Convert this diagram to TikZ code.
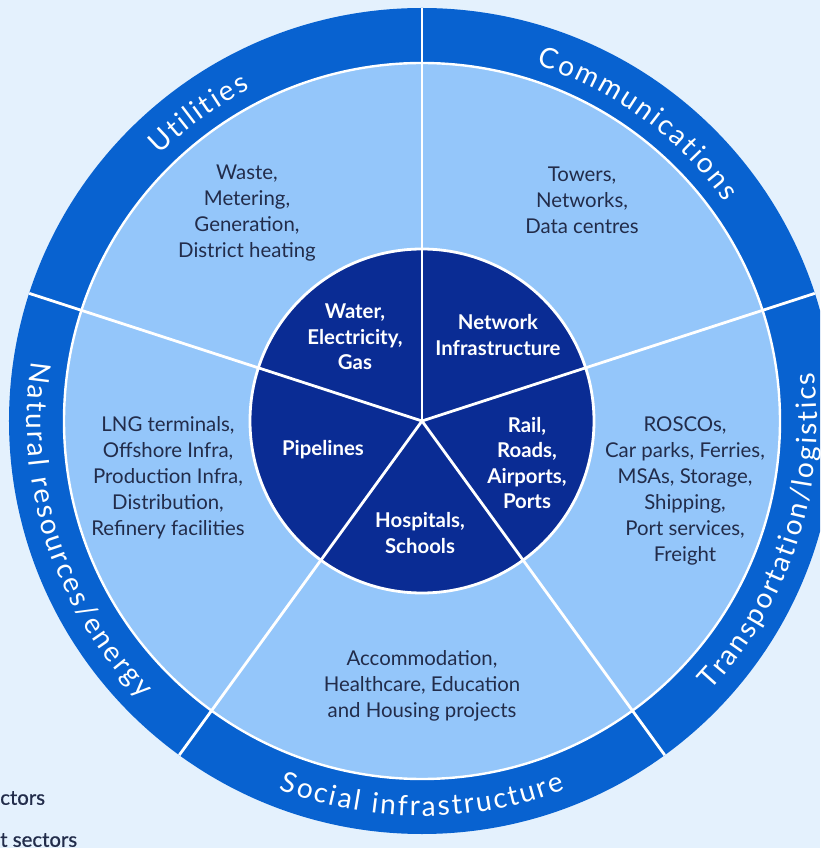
\documentclass[tikz,border=0pt]{standalone}
\usepackage{fontspec}
\setmainfont{Lato}
\newfontfamily\bandfont{Lato}
\newfontfamily\legendfont[FakeBold=0.8]{Lato}
\usetikzlibrary{decorations.text}

\definecolor{bgblue}{RGB}{228,241,253}
\definecolor{bandblue}{RGB}{8,98,208}
\definecolor{paleblue}{RGB}{148,198,250}
\definecolor{coreblue}{RGB}{10,44,148}
\definecolor{inktext}{RGB}{34,44,74}

\begin{document}
\begin{tikzpicture}[x=0.25mm, y=0.25mm,
    pale/.style={align=center, text=inktext, font=\fontsize{14.5}{18.5}\selectfont},
    core/.style={align=center, text=white, font=\bfseries\fontsize{14.5}{18}\selectfont},
    legend/.style={anchor=west, inner sep=0pt, text=inktext, font=\legendfont\fontsize{14.5}{16}\selectfont},
    divider/.style={white, line width=0.7mm},
    bandtext/.style={decorate, decoration={text effects along path, text={#1}, text align=center,
        text effects/.cd, text along path,
        character widths={inner xsep=0.8pt, font=\bandfont\fontsize{20}{22}\selectfont},
        characters={text=white, font=\bandfont\fontsize{20}{22}\selectfont}}}
]
    \coordinate (O) at (0, 0);

    \pgfmathsetmacro{\rout}{413}    % outer edge of the sector band
    \pgfmathsetmacro{\rmid}{358}    % sub-sector ring
    \pgfmathsetmacro{\rcore}{172}   % core disc
    \pgfmathsetmacro{\rin}{374}     % baseline, upper labels
    \pgfmathsetmacro{\rex}{395}     % baseline, lower labels

    \fill[bgblue] (-422, -427) rectangle (398, 421);
    \useasboundingbox (-422, -427) rectangle (398, 421);
    \clip (-422, -427) rectangle (398, 421);

    \fill[bandblue] (O) circle (\rout);
    \filldraw[fill=paleblue, draw=white, line width=0.6mm] (O) circle (\rmid);
    \filldraw[fill=coreblue, draw=white, line width=0.7mm] (O) circle (\rcore);

    \foreach \a in {90, 18, -54, -126, 162}
        \draw[divider] (O) -- (\a:\rout);

    % core assets
    \node[core] (water) at (-67, 84) {Water,\\Electricity,\\Gas};
    \node[core] (network) at (76, 86) {Network\\Infrastructure};
    \node[core] (rail) at (105, -42) {Rail,\\Roads,\\Airports,\\Ports};
    \node[core] (hosp) at (-2, -112) {Hospitals,\\Schools};
    \node[core] (pipe) at (-99, -29) {Pipelines};

    % adjacent assets
    \node[pale] (util) at (-175, 208) {Waste,\\Metering,\\Generation,\\District heating};
    \node[pale] (comm) at (160, 221) {Towers,\\Networks,\\Data centres};
    \node[pale] (trans) at (263, -70) {ROSCOs,\\Car parks, Ferries,\\MSAs, Storage,\\Shipping,\\Port services,\\Freight};
    \node[pale] (social) at (0, -265) {Accommodation,\\Healthcare, Education\\and Housing projects};
    \node[pale] (natural) at (-254, -57) {LNG terminals,\\Offshore Infra,\\Production Infra,\\Distribution,\\Refinery facilities};

    % sector names round the band
    \path[bandtext=Utilities] (162:\rin) arc[start angle=162, end angle=90, radius=\rin];
    \path[bandtext=Communications] (90:\rin) arc[start angle=90, end angle=18, radius=\rin];
    \path[bandtext=Transportation/logistics] (-54:\rex) arc[start angle=-54, end angle=18, radius=\rex];
    \path[bandtext=Social infrastructure] (-126:\rex) arc[start angle=-126, end angle=-54, radius=\rex];
    \path[bandtext=Natural resources/energy] (162:\rex) arc[start angle=162, end angle=234, radius=\rex];

    \node[legend] (leg1) at (-422, -377) {ctors};
    \node[legend] (leg2) at (-422, -419) {t sectors};
\end{tikzpicture}
\end{document}
